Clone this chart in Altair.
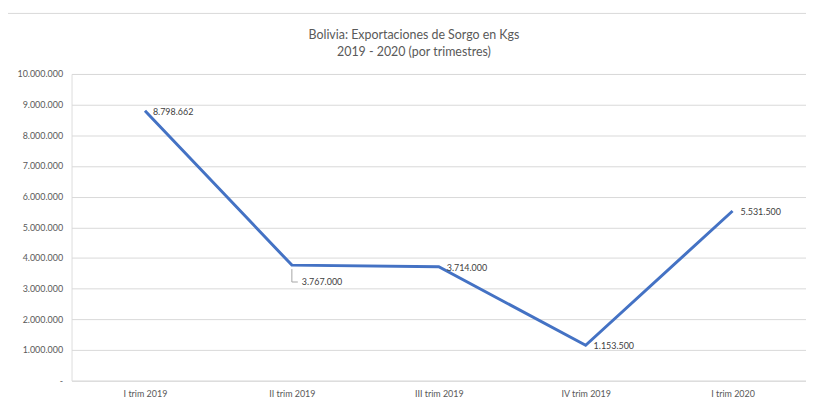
import altair as alt
import pandas as pd

quarters = ["I trim 2019", "II trim 2019", "III trim 2019", "IV trim 2019", "I trim 2020"]
kgs = [8798662, 3767000, 3714000, 1153500, 5531500]
title_lines = ["Bolivia: Exportaciones de Sorgo en Kgs", "2019 - 2020 (por trimestres)"]

df = pd.DataFrame({"trimestre": quarters, "kgs": kgs})

FONT = "Lato"
x_enc = alt.X("trimestre:N", sort=quarters,
              scale=alt.Scale(type="point", padding=0.5),
              axis=alt.Axis(title=None, labelAngle=0, labelFontSize=9, labelColor="#595959",
                            labelFont=FONT, domain=False, ticks=False, labelPadding=9, grid=False))
y_enc = alt.Y("kgs:Q", scale=alt.Scale(domain=[0, 10000000], nice=False),
              axis=alt.Axis(title=None, values=list(range(0, 10000001, 1000000)), format=",d",
                            labelExpr="datum.value == 0 ? '-' : datum.label",
                            labelOverlap=False,
                            labelFontSize=9, labelColor="#595959", labelFont=FONT,
                            domain=False, ticks=False, labelPadding=9,
                            gridColor="#d9d9d9", gridWidth=1))

base = alt.Chart(df).encode(x=x_enc, y=y_enc)
first = alt.datum.trimestre == quarters[0]
second = alt.datum.trimestre == quarters[1]

border = alt.Chart(df).mark_rect(fill=None, stroke="#d9d9d9", strokeWidth=1, clip=False).encode(
    x=alt.value(-65), x2=alt.value(760), y=alt.value(-61), y2=alt.value(360)
).transform_filter(first)

title = alt.Chart(df).mark_text(align="center", baseline="alphabetic", fontSize=12.5,
                                 font=FONT, color="#595959", lineHeight=17, clip=False).encode(
    x=alt.value(345), y=alt.value(-35), text=alt.value(title_lines)
).transform_filter(first)

line = base.mark_line(color="#4472C4", strokeWidth=3)

labels = base.mark_text(align="left", baseline="middle", dx=8, dy=1, fontSize=9,
                        color="#404040", font=FONT).encode(
    text=alt.Text("kgs:Q", format=",d")
).transform_filter(~second)

label2 = base.mark_text(align="left", baseline="middle", dx=10, dy=17, fontSize=9,
                        color="#404040", font=FONT).encode(
    text=alt.Text("kgs:Q", format=",d")
).transform_filter(second)

lead_v = base.mark_rule(color="#a6a6a6", strokeWidth=1, yOffset=4, y2Offset=17).encode(
    y2="kgs:Q"
).transform_filter(second)

lead_h = base.mark_rule(color="#a6a6a6", strokeWidth=1, yOffset=17, x2Offset=6).encode(
    x2="trimestre:N"
).transform_filter(second)

chart = alt.layer(border, title, line, lead_v, lead_h, labels, label2).properties(
    width=740, height=309,
    autosize=alt.AutoSizeParams(type="none"),
    padding={"left": 64, "top": 65, "right": 0, "bottom": 16},
).configure_view(stroke=None).configure(background="white")

chart.save("out.html", embed_options={"renderer": "svg", "actions": False,
                                      "formatLocale": {"decimal": ",", "thousands": ".",
                                                       "grouping": [3], "currency": ["", ""]}})
